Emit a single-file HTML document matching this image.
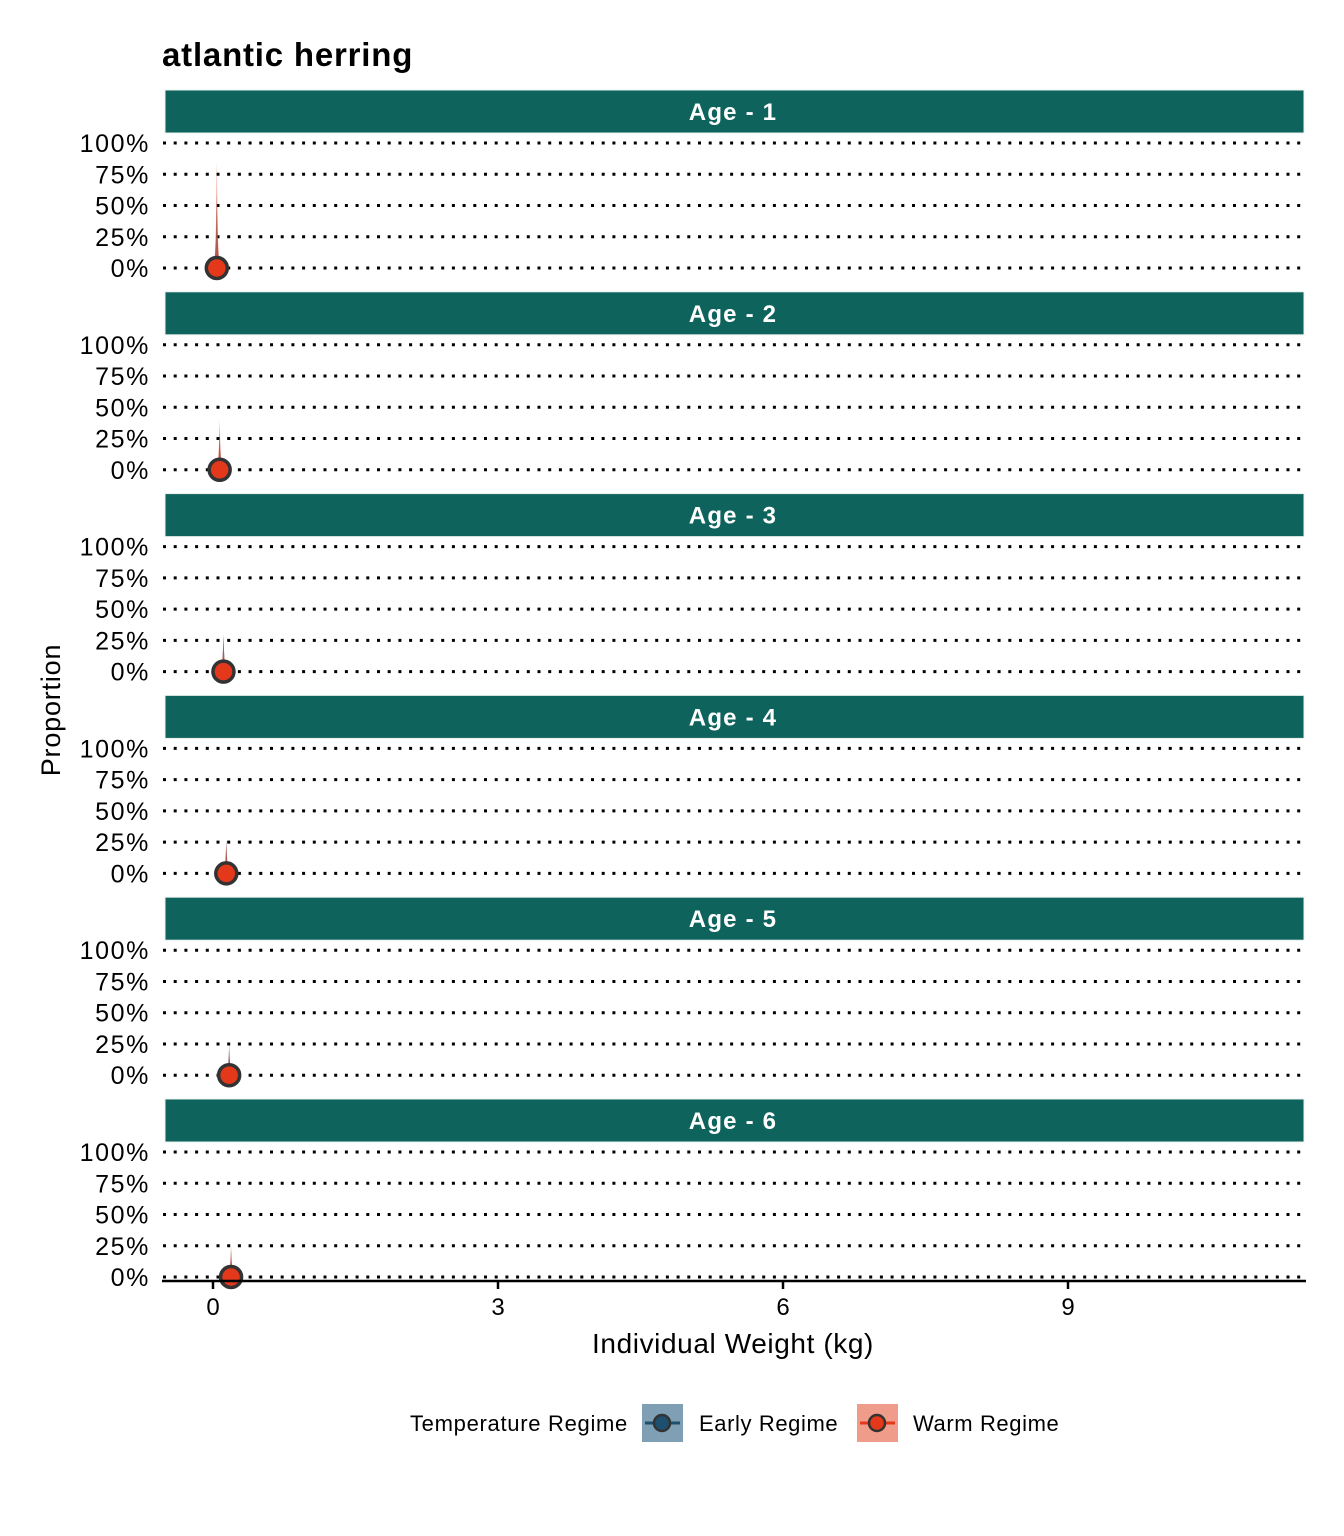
<!DOCTYPE html>
<html><head><meta charset="utf-8"><style>
body{margin:0;background:#fff}
svg{display:block;font-family:"Liberation Sans",Arial,sans-serif}
</style></head><body>
<svg id="chart" width="1344" height="1536" viewBox="0 0 1344 1536">
<rect width="1344" height="1536" fill="#fff"/>
<text x="162" y="66" font-size="33" font-weight="bold" letter-spacing="0.8">atlantic herring</text>
<text transform="translate(60,710) rotate(-90)" text-anchor="middle" font-size="27" letter-spacing="0.8">Proportion</text>
<text x="733" y="1353" text-anchor="middle" font-size="28" letter-spacing="0.6">Individual Weight (kg)</text>
<g id="panels"></g>
<g>
<text x="628" y="1431" text-anchor="end" font-size="22" letter-spacing="0.7">Temperature Regime</text>
<rect x="642" y="1404" width="41" height="38" fill="#7f9fb5"/>
<line x1="645" y1="1423" x2="680" y2="1423" stroke="#1d4f6e" stroke-width="3"/>
<circle cx="662" cy="1423" r="8" fill="#1d4f6e" stroke="#333" stroke-width="2.5"/>
<text x="699" y="1431" font-size="22" letter-spacing="0.6">Early Regime</text>
<rect x="857" y="1404" width="41" height="38" fill="#f09c8a"/>
<line x1="860" y1="1423" x2="895" y2="1423" stroke="#e3381a" stroke-width="3"/>
<circle cx="877" cy="1423" r="8" fill="#e3381a" stroke="#333" stroke-width="2.5"/>
<text x="913" y="1431" font-size="22" letter-spacing="0.6">Warm Regime</text>
</g>
</svg>
<script>
const ages = ["Age - 1","Age - 2","Age - 3","Age - 4","Age - 5","Age - 6"];
const earlyMean = [0.04,0.07,0.11,0.14,0.17,0.19];
const warmMean = [0.04,0.07,0.11,0.14,0.17,0.19];
const earlyPeak = [0.6,0.3,0.3,0.27,0.25,0.22];
const warmPeak = [0.85,0.4,0.28,0.25,0.2,0.25];
const yTicks = [0,0.25,0.5,0.75,1];
const yTickLabels = ["0%","25%","50%","75%","100%"];
const xTicks = [0,3,6,9];
const NS="http://www.w3.org/2000/svg";
const g=document.getElementById('panels');
const X=v=>213+v*95;
function mk(t,a){const e=document.createElementNS(NS,t);for(const k in a)e.setAttribute(k,a[k]);g.appendChild(e);return e;}
function spike(mean,peak,Y,col,op){
  const w=0.05;let d='M'+X(mean-w)+','+Y(0);
  for(let i=-10;i<=10;i++){const t=i/10;const x=mean+t*w;const v=peak*Math.exp(-Math.abs(t)*5);d+=' L'+X(x).toFixed(2)+','+Y(v).toFixed(2);}
  d+=' L'+X(mean+w)+','+Y(0)+' Z';
  return mk('path',{d:d,fill:col,'fill-opacity':op});
}
ages.forEach((a,i)=>{
  const top=90+i*201.8;
  const y0=top+178, y1=top+53;
  const Y=v=>y0-(y0-y1)*v;
  let s=mk('rect',{x:165,y:top,width:1139,height:43,fill:'#0e635c',stroke:'#e8f0ee','stroke-width':1});
  
  
  let st=mk('text',{x:733,y:top+30,'text-anchor':'middle','font-size':24,'font-weight':'bold',fill:'#fff','letter-spacing':1.2});
  st.textContent=a;
  
  
  yTicks.forEach((t,j)=>{
    let l=mk('line',{x1:163,x2:1306,y1:Y(t),y2:Y(t),stroke:'#000','stroke-width':3,'stroke-dasharray':'3 7.7'});
    
    
    let tx=mk('text',{x:150,y:Y(t)+9,'text-anchor':'end','font-size':25,'letter-spacing':1.6});
    tx.textContent=yTickLabels[j];
    
    
  });
  let e=spike(earlyMean[i],earlyPeak[i],Y,'#5a6e86',0.85);
  
  
  let w=spike(warmMean[i],warmPeak[i],Y,'#e3381a',0.55);
  
  
  let c=mk('circle',{cx:X(warmMean[i]),cy:Y(0),r:10.5,fill:'#e3381a',stroke:'#333','stroke-width':3.5});
  
  
});
let ax=mk('line',{x1:162,x2:1306,y1:1281,y2:1281,stroke:'#000','stroke-width':2.5});


xTicks.forEach(t=>{
  let tk=mk('line',{x1:X(t),x2:X(t),y1:1281,y2:1289,stroke:'#000','stroke-width':2.5});
  
  
  let tl=mk('text',{x:X(t),y:1315,'text-anchor':'middle','font-size':24});
  tl.textContent=t;
  
  
});
</script>
</body></html>
